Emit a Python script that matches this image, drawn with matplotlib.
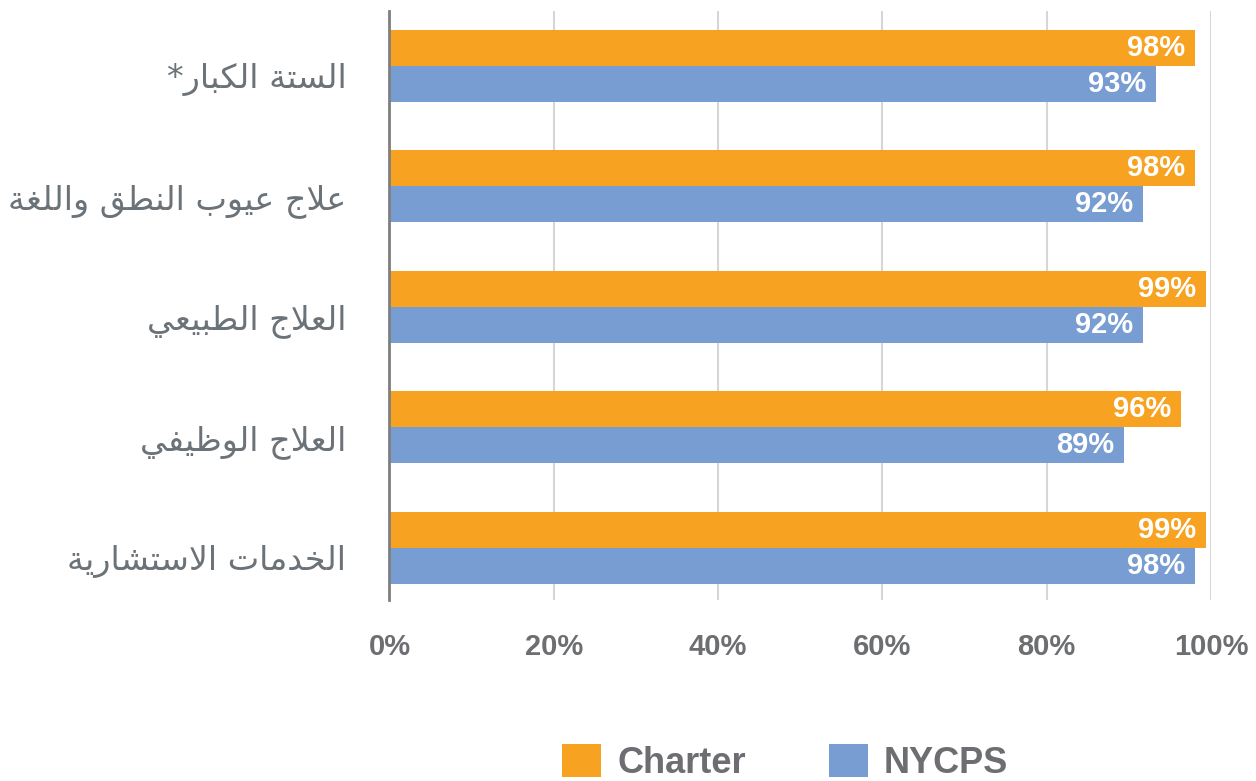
import matplotlib
matplotlib.use("Agg")
import matplotlib.pyplot as plt
from matplotlib.patches import Patch
import matplotlib.transforms as mtransforms
import numpy as np

# ---------------- data ----------------
categories = ["الستة الكبار*", "علاج عيوب النطق واللغة", "العلاج الطبيعي",
              "العلاج الوظيفي", "الخدمات الاستشارية"]
series_names = ["Charter", "NYCPS"]
charter = [98.0, 98.0, 99.4, 96.4, 99.4]
nycps = [93.3, 91.7, 91.7, 89.4, 98.0]
xticks = [0, 20, 40, 60, 80, 100]
xtick_labels = ["0%", "20%", "40%", "60%", "80%", "100%"]

# ---------------- minimal Arabic shaping ----------------
FORMS = {
    'ا': (0xFE8D, 0xFE8E, None, None),
    'ب': (0xFE8F, 0xFE90, 0xFE91, 0xFE92),
    'ة': (0xFE93, 0xFE94, None, None),
    'ت': (0xFE95, 0xFE96, 0xFE97, 0xFE98),
    'ث': (0xFE99, 0xFE9A, 0xFE9B, 0xFE9C),
    'ج': (0xFE9D, 0xFE9E, 0xFE9F, 0xFEA0),
    'ح': (0xFEA1, 0xFEA2, 0xFEA3, 0xFEA4),
    'خ': (0xFEA5, 0xFEA6, 0xFEA7, 0xFEA8),
    'د': (0xFEA9, 0xFEAA, None, None),
    'ذ': (0xFEAB, 0xFEAC, None, None),
    'ر': (0xFEAD, 0xFEAE, None, None),
    'ز': (0xFEAF, 0xFEB0, None, None),
    'س': (0xFEB1, 0xFEB2, 0xFEB3, 0xFEB4),
    'ش': (0xFEB5, 0xFEB6, 0xFEB7, 0xFEB8),
    'ص': (0xFEB9, 0xFEBA, 0xFEBB, 0xFEBC),
    'ض': (0xFEBD, 0xFEBE, 0xFEBF, 0xFEC0),
    'ط': (0xFEC1, 0xFEC2, 0xFEC3, 0xFEC4),
    'ظ': (0xFEC5, 0xFEC6, 0xFEC7, 0xFEC8),
    'ع': (0xFEC9, 0xFECA, 0xFECB, 0xFECC),
    'غ': (0xFECD, 0xFECE, 0xFECF, 0xFED0),
    'ف': (0xFED1, 0xFED2, 0xFED3, 0xFED4),
    'ق': (0xFED5, 0xFED6, 0xFED7, 0xFED8),
    'ك': (0xFED9, 0xFEDA, 0xFEDB, 0xFEDC),
    'ل': (0xFEDD, 0xFEDE, 0xFEDF, 0xFEE0),
    'م': (0xFEE1, 0xFEE2, 0xFEE3, 0xFEE4),
    'ن': (0xFEE5, 0xFEE6, 0xFEE7, 0xFEE8),
    'ه': (0xFEE9, 0xFEEA, 0xFEEB, 0xFEEC),
    'و': (0xFEED, 0xFEEE, None, None),
    'ي': (0xFEF1, 0xFEF2, 0xFEF3, 0xFEF4),
    'LA': (0xFEFB, 0xFEFC, None, None),
}


def shape_arabic(text):
    units = []
    i = 0
    while i < len(text):
        c = text[i]
        if c == 'ل' and i + 1 < len(text) and text[i + 1] == 'ا':
            units.append('LA')
            i += 2
        else:
            units.append(c)
            i += 1
    out = []
    for k, u in enumerate(units):
        if u not in FORMS:
            out.append(u)
            continue
        iso, fin, ini, med = FORMS[u]
        prev = units[k - 1] if k > 0 else None
        nxt = units[k + 1] if k + 1 < len(units) else None
        jp = prev in FORMS and FORMS[prev][2] is not None
        jn = ini is not None and nxt in FORMS
        if jp and jn:
            cp = med
        elif jp:
            cp = fin
        elif jn:
            cp = ini
        else:
            cp = iso
        out.append(chr(cp))
    return ''.join(out)[::-1]


# ---------------- figure ----------------
W, H = 1256, 781
fig = plt.figure(figsize=(W / 100, H / 100), dpi=100)
ax_left, ax_right, ax_top, ax_bot = 389.5, 1211, 11, 600
ax = fig.add_axes([ax_left / W, 1 - ax_bot / H, (ax_right - ax_left) / W, (ax_bot - ax_top) / H])

orange = "#F8A221"
blue = "#789DD2"
grey_txt = "#6D6E71"
lab_col = "#6B7379"

n = len(categories)
y = np.arange(n)
bh = 0.299
bars_c = ax.barh(y - bh / 2, charter, height=bh, color=orange, zorder=3)
bars_n = ax.barh(y + bh / 2, nycps, height=bh, color=blue, zorder=3)

ax.set_ylim(n - 1 + 0.432, -0.456)
ax.set_xlim(0, 100)

ax.set_xticks(xticks)
ax.set_xticklabels(xtick_labels, fontsize=21, fontweight='bold', color=grey_txt,
                   family=['Liberation Sans', 'DejaVu Sans'])
ax.tick_params(axis='x', length=0, pad=24)

ax.set_yticks(y)
ax.set_yticklabels([shape_arabic(c) for c in categories], fontsize=24,
                   color=lab_col, family=['DejaVu Sans'])
ax.tick_params(axis='y', length=0, pad=31)
shift = mtransforms.ScaledTranslation(0, -0.10, fig.dpi_scale_trans)
for lab in ax.get_yticklabels():
    lab.set_transform(lab.get_transform() + shift)

ax.grid(axis='x', color='#D6D6D6', linewidth=1.5, zorder=0)
for s in ['top', 'right', 'bottom']:
    ax.spines[s].set_visible(False)
ax.spines['left'].set_color('#7F7F7F')
ax.spines['left'].set_linewidth(2)
ax.spines['left'].set_zorder(4)

for bars, vals in ((bars_c, charter), (bars_n, nycps)):
    for b, v in zip(bars, vals):
        ax.annotate(f"{v:.0f}%", xy=(v, b.get_y() + b.get_height() / 2),
                    xytext=(-7, 0), textcoords='offset points',
                    ha='right', va='center', color='white', fontsize=21,
                    fontweight='bold', family=['Liberation Sans', 'DejaVu Sans'], zorder=5)

handles = [Patch(facecolor=orange, edgecolor='none'), Patch(facecolor=blue, edgecolor='none')]
leg = fig.legend(handles, series_names, loc='lower center', bbox_to_anchor=(785 / W, 0.0),
                 ncol=2, frameon=False, handlelength=1.08, handleheight=1.05,
                 handletextpad=0.44, columnspacing=2.3, borderpad=0.0, borderaxespad=0.0,
                 prop={'family': ['Liberation Sans', 'DejaVu Sans'], 'weight': 'bold', 'size': 26})
for t in leg.get_texts():
    t.set_color(grey_txt)

fig.savefig("out.png", dpi=100)
